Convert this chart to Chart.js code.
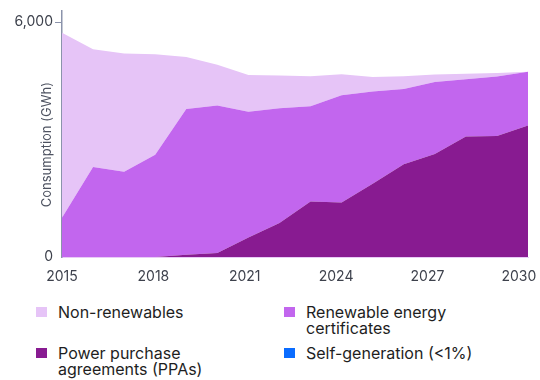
<!DOCTYPE html>
<html>
<head>
<meta charset="utf-8">
<script src="https://cdn.jsdelivr.net/npm/chart.js@4.4.1/dist/chart.umd.min.js"></script>
<style>
  body { margin: 0; background: #fff; font-family: Inter, "Noto Sans", sans-serif; }
  #wrap { position: relative; width: 540px; height: 380px; }
  #chartBox { position: absolute; left: 0; top: 0; width: 540px; height: 292px; }
  #legend { position: absolute; left: 36px; top: 304px; display: grid; grid-template-columns: 248px 248px; row-gap: 9px; }
  .item { display: flex; align-items: flex-start; font-size: 16px; line-height: 16px; color: #1e1e1e; }
  .swatch { width: 11px; height: 10px; margin-top: 3px; margin-right: 11px; flex: none; }
</style>
</head>
<body>
<div id="wrap">
  <div id="chartBox"><canvas id="energyChart"></canvas></div>
  <div id="legend"></div>
</div>
<script>
const years = ['2015', '2016', '2017', '2018', '2019', '2020', '2021', '2022', '2023', '2024', '2025', '2026', '2027', '2028', '2029', '2030'];
const tickYears = [2015, 2018, 2021, 2024, 2027, 2030];
const yTicks = [0, 6000];

// GWh
const ppa = [0, 0, 0, 0, 60, 100, 500, 870, 1420, 1390, 1870, 2370, 2630, 3080, 3090, 3360];
const selfGen = [0, 0, 0, 0, 0, 0, 0, 0, 0, 0, 0, 0, 0, 0, 0, 0];
const recs = [1000, 2300, 2180, 2610, 3720, 3770, 3210, 2930, 2430, 2740, 2360, 1920, 1840, 1460, 1520, 1370];
const nonRenewables = [4730, 3010, 3020, 2570, 1330, 1040, 940, 840, 770, 540, 370, 330, 190, 140, 90, 0];

const axisColor = '#8b93ab';
const labelColor = '#3d414c';

const series = [
    { label: 'Power purchase\nagreements (PPAs)', data: ppa, color: '#881b91' },
    { label: 'Self-generation (<1%)', data: selfGen, color: '#0a6cff' },
    { label: 'Renewable energy\ncertificates', data: recs, color: '#c266ee' },
    { label: 'Non-renewables', data: nonRenewables, color: '#e6c4f7' }
];

// legend order as in the figure
const legendOrder = [3, 2, 0, 1];
const legend = document.getElementById('legend');
legendOrder.forEach(function (i) {
    const s = series[i];
    const item = document.createElement('div');
    item.className = 'item';
    item.innerHTML = '<span class="swatch" style="background:' + s.color + '"></span><span>' +
        s.label.replace('<', '&lt;').replace('\n', '<br>') + '</span>';
    legend.appendChild(item);
});

const ctx = document.getElementById('energyChart').getContext('2d');
const energyChart = new Chart(ctx, {
    type: 'line',
    data: {
        labels: years,
        datasets: series.map(function (s, i) {
            return {
                label: s.label,
                data: s.data,
                backgroundColor: s.color,
                borderWidth: 0,
                pointRadius: 0,
                tension: 0,
                fill: i === 0 ? 'origin' : '-1'
            };
        })
    },
    options: {
        responsive: true,
        maintainAspectRatio: false,
        animation: false,
        layout: { padding: { left: 0, right: 12, top: 9, bottom: 0 } },
        plugins: {
            legend: { display: false },
            tooltip: { enabled: false }
        },
        scales: {
            x: {
                display: false,
                offset: false
            },
            xLabels: {
                type: 'linear',
                position: 'bottom',
                min: 2015,
                max: 2030.3,
                afterBuildTicks: function (scale) {
                    scale.ticks = tickYears.map(function (v) { return { value: v }; });
                },
                afterFit: function (scale) {
                    scale.height = 35;
                    scale.paddingLeft = 0;
                    scale.paddingRight = 0;
                },
                grid: { display: false, drawTicks: false },
                border: { display: true, color: '#e8cbf6', width: 1 },
                ticks: {
                    padding: 11,
                    color: labelColor,
                    font: { family: 'Inter', size: 14 },
                    maxRotation: 0,
                    callback: function (value) { return String(value); }
                }
            },
            y: {
                stacked: true,
                min: 0,
                max: 6300,
                afterBuildTicks: function (scale) {
                    scale.ticks = yTicks.map(function (v) { return { value: v }; });
                },
                afterFit: function (scale) {
                    scale.width = 62;
                },
                grid: {
                    drawOnChartArea: false,
                    tickLength: 7,
                    tickColor: function (c) {
                        return c.tick && c.tick.value === 6000 ? axisColor : 'rgba(0,0,0,0)';
                    }
                },
                border: { display: true, color: axisColor, width: 1.5 },
                ticks: {
                    padding: 2,
                    color: labelColor,
                    font: { family: 'Inter', size: 14 },
                    callback: function (value) {
                        return value.toLocaleString('en-US');
                    }
                },
                title: {
                    display: true,
                    // trailing spaces nudge the centred title a bit lower, as in the original
                    text: 'Consumption (GWh)      ',
                    color: '#4d5260',
                    font: { family: 'Inter', size: 13 },
                    padding: { top: 39, bottom: 0 }
                }
            }
        }
    }
});
</script>
</body>
</html>
